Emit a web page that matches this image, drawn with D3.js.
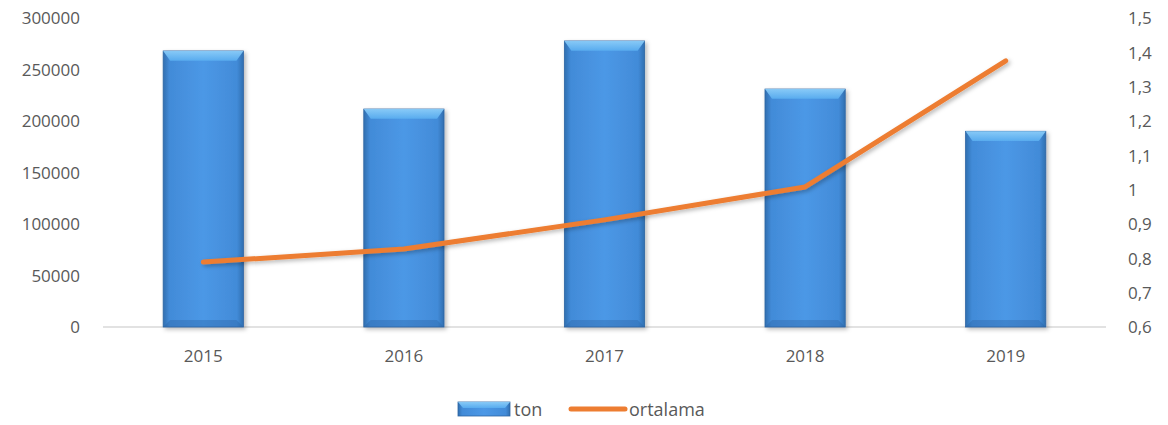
<!DOCTYPE html>
<html lang="tr">
<head>
  <meta charset="UTF-8">
  <title>ton / ortalama</title>
  <script src="https://d3js.org/d3.v7.min.js"></script>
  <style>
    body { margin: 0; background: #fff; }
    text { font-family: "Open Sans", "Liberation Sans", sans-serif; fill: #595959; }
  </style>
</head>
<body>
  <div id="canvas"></div>
  <script>
    const years = ['2015', '2016', '2017', '2018', '2019'];
    const ton = [268000, 211600, 277700, 231000, 190000];
    const ortalama = [0.789, 0.827, 0.912, 1.008, 1.375];
    const leftTicks = [0, 50000, 100000, 150000, 200000, 250000, 300000];
    const rightTicks = [0.6, 0.7, 0.8, 0.9, 1, 1.1, 1.2, 1.3, 1.4, 1.5];

    const width = 1168;
    const height = 425;
    const padL = 103, padR = 1106, padT = 18, padB = 327;

    const svg = d3.select('#canvas').append('svg')
      .attr('width', width)
      .attr('height', height);

    const defs = svg.append('defs');
    const grad = defs.append('linearGradient').attr('id', 'barGrad')
      .attr('x1', 0).attr('x2', 1).attr('y1', 0).attr('y2', 0);
    grad.append('stop').attr('offset', '0%').attr('stop-color', '#306fb0');
    grad.append('stop').attr('offset', '8%').attr('stop-color', '#428bd8');
    grad.append('stop').attr('offset', '50%').attr('stop-color', '#4c98e6');
    grad.append('stop').attr('offset', '92%').attr('stop-color', '#428bd8');
    grad.append('stop').attr('offset', '100%').attr('stop-color', '#306fb0');

    const topGrad = defs.append('linearGradient').attr('id', 'topGrad')
      .attr('x1', 0).attr('x2', 0).attr('y1', 0).attr('y2', 1);
    topGrad.append('stop').attr('offset', '0%').attr('stop-color', '#8fd0fa');
    topGrad.append('stop').attr('offset', '100%').attr('stop-color', '#5aaef0');

    const shadow = defs.append('filter').attr('id', 'shadow')
      .attr('x', '-20%').attr('y', '-20%').attr('width', '140%').attr('height', '140%');
    shadow.append('feDropShadow').attr('dx', 2).attr('dy', 2).attr('stdDeviation', 2)
      .attr('flood-color', '#000').attr('flood-opacity', 0.28);

    const x = d3.scaleBand().domain(years).range([padL, padR]).paddingInner(0.6).paddingOuter(0.3);
    const yL = d3.scaleLinear().domain([0, 300000]).range([padB, padT]);
    const yR = d3.scaleLinear().domain([0.6, 1.5]).range([padB, padT]);

    // left axis
    const axL = svg.append('g')
      .attr('transform', 'translate(' + 80 + ',0)')
      .call(d3.axisLeft(yL).tickValues(leftTicks).tickSize(0).tickPadding(0).tickFormat(d3.format('d')));
    axL.select('.domain').remove();
    axL.selectAll('text').style('font-size', '17px').attr('dy', '0.35em');

    // right axis
    const axR = svg.append('g')
      .attr('transform', 'translate(' + 1128 + ',0)')
      .call(d3.axisRight(yR).tickValues(rightTicks).tickSize(0).tickPadding(0)
        .tickFormat(d => d3.format('~g')(d).replace('.', ',')));
    axR.select('.domain').remove();
    axR.selectAll('text').style('font-size', '17px').attr('dy', '0.35em');

    // baseline
    svg.append('line')
      .attr('x1', padL).attr('x2', padR)
      .attr('y1', yL(0)).attr('y2', yL(0))
      .attr('stroke', '#d9d9d9').attr('stroke-width', 1.5);

    // bars
    const bev = 7;
    const bars = svg.append('g').selectAll('g').data(years).enter().append('g');
    bars.append('rect')
      .attr('x', d => x(d))
      .attr('y', (d, i) => yL(ton[i]))
      .attr('width', x.bandwidth())
      .attr('height', (d, i) => yL(0) - yL(ton[i]))
      .attr('fill', 'url(#barGrad)')
      .attr('stroke', '#2d65a3').attr('stroke-width', 0.8)
      .attr('filter', 'url(#shadow)');
    // top bevel
    bars.append('path')
      .attr('d', (d, i) => {
        const x0 = x(d), x1 = x(d) + x.bandwidth(), y0 = yL(ton[i]);
        return 'M' + x0 + ',' + y0 + 'L' + x1 + ',' + y0 + 'L' + (x1 - bev) + ',' + (y0 + bev * 1.4) +
          'L' + (x0 + bev) + ',' + (y0 + bev * 1.4) + 'Z';
      })
      .attr('fill', 'url(#topGrad)').attr('opacity', 0.9);
    // bottom bevel
    bars.append('path')
      .attr('d', (d, i) => {
        const x0 = x(d), x1 = x(d) + x.bandwidth(), y1 = yL(0);
        return 'M' + x0 + ',' + y1 + 'L' + x1 + ',' + y1 + 'L' + (x1 - bev) + ',' + (y1 - bev) +
          'L' + (x0 + bev) + ',' + (y1 - bev) + 'Z';
      })
      .attr('fill', '#2c62a0').attr('opacity', 0.35);

    // x labels
    svg.append('g').selectAll('text').data(years).enter().append('text')
      .attr('x', d => x(d) + x.bandwidth() / 2)
      .attr('y', 362)
      .attr('text-anchor', 'middle')
      .style('font-size', '17px')
      .text(d => d);

    // line
    const line = d3.line()
      .x((d, i) => x(years[i]) + x.bandwidth() / 2)
      .y(d => yR(d));
    svg.append('path')
      .datum(ortalama)
      .attr('d', line)
      .attr('fill', 'none')
      .attr('stroke', '#ed7d31')
      .attr('stroke-width', 5)
      .attr('stroke-linecap', 'round')
      .attr('stroke-linejoin', 'round')
      .attr('filter', 'url(#shadow)');

    // legend
    const legend = svg.append('g');
    legend.append('rect')
      .attr('x', 458).attr('y', 402).attr('width', 52).attr('height', 14)
      .attr('fill', 'url(#barGrad)').attr('stroke', '#2d65a3').attr('stroke-width', 0.8);
    legend.append('path')
      .attr('d', 'M458,402L510,402L505,408L463,408Z')
      .attr('fill', 'url(#topGrad)').attr('opacity', 0.9);
    legend.append('text').attr('x', 514).attr('y', 416).style('font-size', '18px').text('ton');
    legend.append('line')
      .attr('x1', 571).attr('x2', 625).attr('y1', 409).attr('y2', 409)
      .attr('stroke', '#ed7d31').attr('stroke-width', 5).attr('stroke-linecap', 'round');
    legend.append('text').attr('x', 629).attr('y', 416).style('font-size', '18px').text('ortalama');
  </script>
</body>
</html>
